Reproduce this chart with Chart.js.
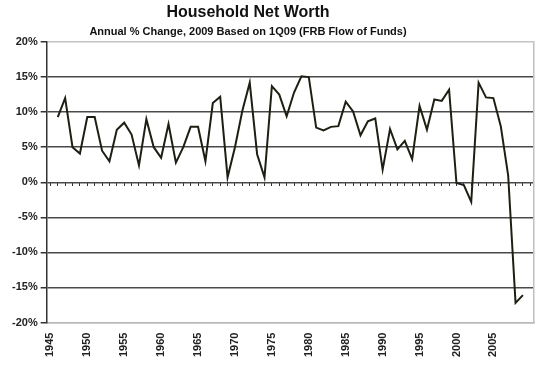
<!DOCTYPE html>
<html><head><meta charset="utf-8">
<script src="https://cdn.jsdelivr.net/npm/chart.js@4"></script>
<style>
html,body{margin:0;padding:0;background:#fff;}
#wrap{position:relative;width:540px;height:367px;overflow:hidden;}
canvas{position:absolute;left:0;top:0;}
.t{position:absolute;left:0;width:496px;text-align:center;font-family:"Liberation Sans",Arial,sans-serif;font-weight:bold;color:#111;white-space:nowrap;}
#title{top:3px;font-size:16px;}
#sub{top:25px;font-size:11px;}
</style></head>
<body><div id="wrap"><canvas id="c" width="540" height="367"></canvas><div id="title" class="t">Household Net Worth</div><div id="sub" class="t">Annual % Change, 2009 Based on 1Q09 (FRB Flow of Funds)</div></div>
<script>
const years = ['1945','1946','1947','1948','1949','1950','1951','1952','1953','1954',
  '1955','1956','1957','1958','1959','1960','1961','1962','1963','1964',
  '1965','1966','1967','1968','1969','1970','1971','1972','1973','1974',
  '1975','1976','1977','1978','1979','1980','1981','1982','1983','1984',
  '1985','1986','1987','1988','1989','1990','1991','1992','1993','1994',
  '1995','1996','1997','1998','1999','2000','2001','2002','2003','2004',
  '2005','2006','2007','2008','2009','2010'];
const netWorthChange = [null,9.3,12.0,5.0,4.1,9.3,9.3,4.5,3.0,7.5,
  8.5,6.8,2.4,9.0,5.0,3.5,8.3,2.8,5.0,7.9,
  7.9,3.0,11.3,12.2,0.7,5.0,10.2,14.2,4.0,0.7,
  13.7,12.5,9.4,12.8,15.1,15.0,7.8,7.4,7.9,8.0,
  11.5,10.1,6.7,8.7,9.1,1.8,7.6,4.7,5.9,3.3,
  10.9,7.5,11.8,11.6,13.2,-0.1,-0.4,-2.8,14.2,12.1,
  12.0,8.0,1.0,-17.2,-16.1,null];
const xTickLabels = ['1945','1950','1955','1960','1965','1970','1975','1980','1985','1990','1995','2000','2005'];
const yTickValues = [-20,-15,-10,-5,0,5,10,15,20];

const FONT = '"Liberation Sans", Arial, sans-serif';
const tickFont = {family: FONT, size: 11, weight: 'bold'};

new Chart(document.getElementById('c'), {
  type: 'line',
  data: {
    labels: years,
    datasets: [{
      data: netWorthChange,
      borderColor: '#1e1e12',
      borderWidth: 2,
      pointRadius: 0,
      tension: 0,
      spanGaps: false,
      xAxisID: 'x',
      yAxisID: 'y'
    }]
  },
  options: {
    responsive: false,
    animation: false,
    devicePixelRatio: 1,
    layout: {padding: {top: 42, left: 9, right: 6, bottom: 0}},
    plugins: {legend: {display: false}, tooltip: {enabled: false}, title: {display: false}},
    scales: {
      x: {
        type: 'category',
        offset: true,
        position: 'bottom',
        afterFit: function(s) { s.paddingRight = 0; s.paddingLeft = 0; },
        grid: {drawOnChartArea: false, drawTicks: false},
        border: {color: '#b8b8b8', width: 1.5},
        ticks: {
          autoSkip: false, maxRotation: 90, minRotation: 90, padding: 10,
          font: tickFont, color: '#222',
          callback: function(v, i) { return xTickLabels.includes(years[i]) ? years[i] : ''; }
        }
      },
      x2: {
        type: 'category',
        labels: years,
        offset: true,
        position: {y: 0},
        ticks: {display: false},
        grid: {drawOnChartArea: false, drawTicks: true, tickLength: 4, color: '#333', lineWidth: 1},
        border: {display: false}
      },
      y: {
        min: -20, max: 20,
        afterBuildTicks: function(scale) { scale.ticks = yTickValues.map(v => ({value: v})); },
        ticks: {font: tickFont, color: '#222', padding: 3, callback: v => v + '%'},
        grid: {
          color: ctx => (ctx.tick && (ctx.tick.value === 20 || ctx.tick.value === -20)) ? '#c4c4c4' : '#4a4a4a',
          lineWidth: 1.5, drawTicks: true, tickLength: 6, tickColor: '#333'
        },
        border: {color: '#333', width: 1.5}
      },
      y2: {
        position: 'right',
        min: -20, max: 20,
        afterFit: function(s) { s.width = 0; },
        ticks: {display: false},
        grid: {display: false, drawTicks: false},
        border: {color: '#c0c0c0', width: 1.5}
      }
    }
  }
});
</script>
</body></html>
